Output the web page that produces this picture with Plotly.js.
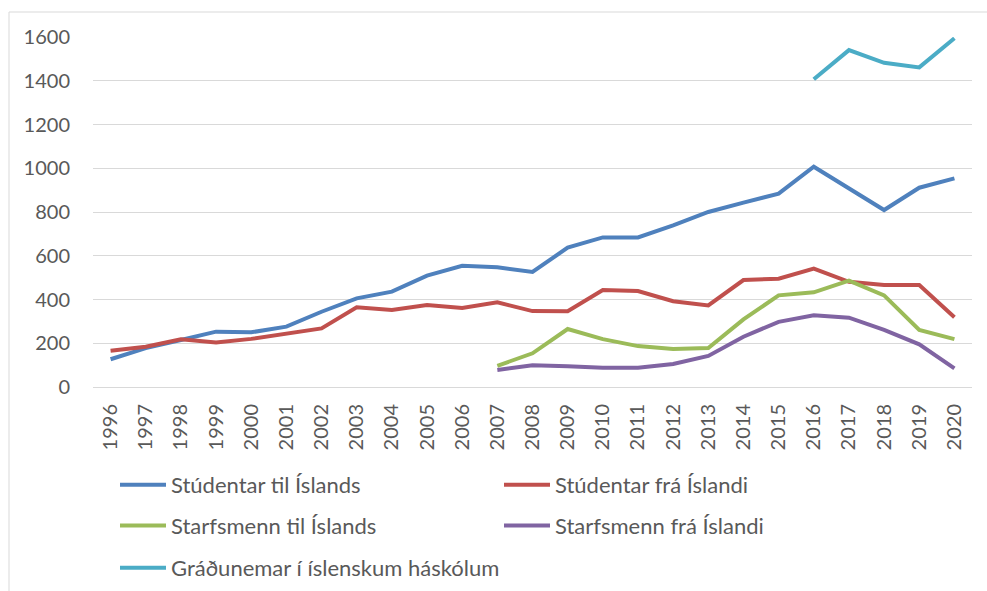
<!DOCTYPE html>
<html>
<head>
<meta charset="utf-8">
<script src="https://cdn.plot.ly/plotly-3.0.1.min.js"></script>
<style>html,body{margin:0;padding:0;background:#fff;}#chart{width:987px;height:591px;}</style>
</head>
<body>
<div id="chart"></div>
<script>
const years = ['1996','1997','1998','1999','2000','2001','2002','2003','2004','2005','2006','2007','2008','2009','2010','2011','2012','2013','2014','2015','2016','2017','2018','2019','2020'];
const studentarTil = [127,178,215,253,250,276,344,405,436,509,554,547,526,637,684,684,739,800,843,884,1007,908,809,911,954];
const studentarFra = [166,184,218,204,220,242,268,364,352,375,361,387,347,346,443,439,392,373,489,495,541,481,466,466,319];
const starfsmennTil = [null,null,null,null,null,null,null,null,null,null,null,97,154,265,219,187,174,178,309,419,433,486,419,261,219];
const starfsmennFra = [null,null,null,null,null,null,null,null,null,null,null,78,99,95,88,88,105,142,230,298,328,317,261,195,85];
const gradunemar = [null,null,null,null,null,null,null,null,null,null,null,null,null,null,null,null,null,null,null,null,1407,1540,1482,1461,1594];
const names = ['Stúdentar til Íslands','Stúdentar frá Íslandi','Starfsmenn til Íslands','Starfsmenn frá Íslandi','Gráðunemar í íslenskum háskólum'];
const colors = ['#4f81bd','#c0504d','#9bbb59','#8064a2','#4bacc6'];
const series = [studentarTil, studentarFra, starfsmennTil, starfsmennFra, gradunemar];
const legendIds = ['legend','legend','legend2','legend2','legend3'];

const traces = series.map((s,i)=>({
  type:'scatter', mode:'lines', x: years, y: s, name: names[i],
  line:{color:colors[i], width:4}, legend: legendIds[i], connectgaps:false,
  hoverinfo:'skip'
}));

const FONT = 'Lato, "Open Sans", sans-serif';
const legFont = {family:FONT, size:22, color:'#595959'};
function leg(y){
  return {orientation:'h', xref:'container', yref:'container', x:115/987, xanchor:'left', y:y, yanchor:'middle',
    font:legFont, entrywidth:323, entrywidthmode:'pixels', itemwidth:46,
    bgcolor:'rgba(0,0,0,0)', traceorder:'normal'};
}

const layout = {
  width:987, height:591,
  margin:{l:93, r:15, t:37, b:204},
  paper_bgcolor:'#fff', plot_bgcolor:'#fff',
  showlegend:true,
  font:{family:FONT, color:'#595959'},
  xaxis:{type:'category', range:[-0.5,24.5], tickangle:-90, showgrid:false,
    showline:true, linecolor:'#d9d9d9', linewidth:1, ticks:'', ticklabelstandoff:8,
    tickfont:{family:FONT, size:20, color:'#595959'}, automargin:false, fixedrange:true},
  yaxis:{range:[0,1600], dtick:200, tick0:0, showgrid:true, gridcolor:'#d9d9d9', gridwidth:1,
    zeroline:false, showline:false, ticks:'', ticklabelstandoff:22,
    tickfont:{family:FONT, size:20, color:'#595959'}, automargin:false, fixedrange:true},
  legend: leg(1-485/591),
  legend2: leg(1-525.7/591),
  legend3: leg(1-568/591),
  shapes:[
    {type:'line', xref:'paper', yref:'paper', x0:(9-93)/879, x1:(9-93)/879, y0:(387-12)/350, y1:(387-591)/350, line:{color:'#d9d9d9', width:1}},
    {type:'line', xref:'paper', yref:'paper', x0:(9-93)/879, x1:(987-93)/879, y0:(387-12)/350, y1:(387-12)/350, line:{color:'#d9d9d9', width:1}}
  ]
};

Plotly.newPlot('chart', traces, layout, {displayModeBar:false, staticPlot:true});
</script>
</body>
</html>
